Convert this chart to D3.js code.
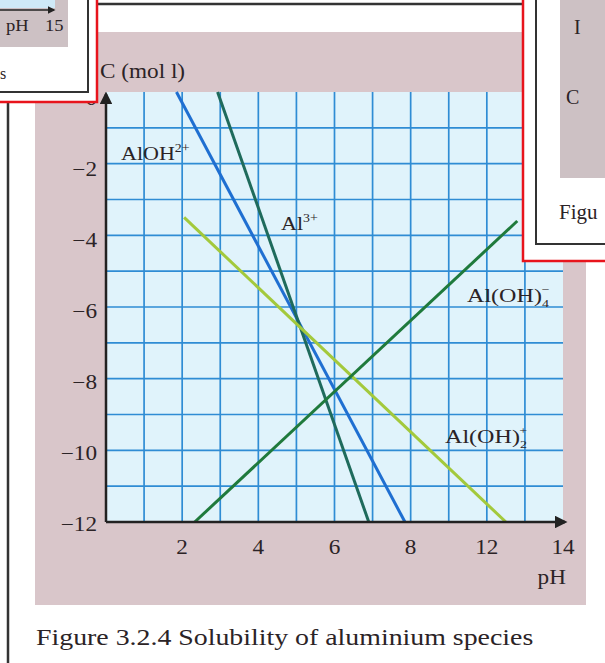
<!DOCTYPE html>
<html>
<head>
  <meta charset="utf-8">
  <title>Solubility of aluminium species</title>
  <style>
    body { margin: 0; background: #fff; }
    svg text { font-family: 'Liberation Serif', 'DejaVu Serif', serif; fill: #2b2326; }
    .tick-label { font-size: 20px; }
  </style>
</head>
<body>
<script src="https://d3js.org/d3.v7.min.js"></script>
<script>
  var width = 605,
      height = 663;

  // grid units along the pH axis, and the labels printed under them
  var xTicks = [2, 4, 6, 8, 10, 12];
  var xTickLabels = ['2', '4', '6', '8', '12', '14'];
  var yTicks = [0, -2, -4, -6, -8, -10, -12];

  var species = ['AlOH2+', 'Al3+', 'Al(OH)2+', 'Al(OH)4-'];
  var linePH = [[1.85, 7.85], [2.93, 6.9], [2.05, 10.5], [2.33, 10.8]];
  var lineLogC = [[0, -12], [0, -12], [-3.5, -12], [-12, -3.6]];
  var lineColors = ['#1f6fd1', '#1f6b5c', '#a3c93c', '#1f7a3c'];

  var stretch = 1.16; // the printed type is wider than Times

  var svg = d3.select('body')
    .append('svg')
    .attr('width', width)
    .attr('height', height);

  function widen(sel) {
    sel.each(function() {
      var w = this.getComputedTextLength();
      d3.select(this)
        .attr('textLength', w * stretch)
        .attr('lengthAdjust', 'spacingAndGlyphs');
    });
    return sel;
  }

  svg.append('rect').attr('width', width).attr('height', height).attr('fill', '#fff');

  // book page around the figure
  svg.append('rect')
    .attr('x', 35).attr('y', 32)
    .attr('width', 551).attr('height', 573)
    .attr('fill', '#d9c6ca');

  var x = d3.scaleLinear().domain([0, 12]).range([106, 563]);
  var y = d3.scaleLinear().domain([0, -12]).range([92, 522]);

  svg.append('rect')
    .attr('x', x(0)).attr('y', y(0))
    .attr('width', x(12) - x(0)).attr('height', y(-12) - y(0))
    .attr('fill', '#e0f3fb');

  var grid = svg.append('g')
    .attr('stroke', '#2f8cd4')
    .attr('stroke-width', 1.7);

  grid.selectAll('.vgrid')
    .data(d3.range(1, 12))
    .enter()
    .append('line')
    .attr('class', 'vgrid')
    .attr('x1', function(d) { return x(d); })
    .attr('x2', function(d) { return x(d); })
    .attr('y1', y(0))
    .attr('y2', y(-12));

  grid.selectAll('.hgrid')
    .data(d3.range(-1, -12, -1))
    .enter()
    .append('line')
    .attr('class', 'hgrid')
    .attr('y1', function(d) { return y(d); })
    .attr('y2', function(d) { return y(d); })
    .attr('x1', x(0))
    .attr('x2', x(12));

  // species lines
  var line = d3.line()
    .x(function(d) { return x(d[0]); })
    .y(function(d) { return y(d[1]); });

  svg.selectAll('.species')
    .data(species)
    .enter()
    .append('path')
    .attr('class', 'species')
    .attr('d', function(d, i) {
      return line([[linePH[i][0], lineLogC[i][0]], [linePH[i][1], lineLogC[i][1]]]);
    })
    .attr('fill', 'none')
    .attr('stroke', function(d, i) { return lineColors[i]; })
    .attr('stroke-width', 3);

  // axes with arrow heads
  var defs = svg.append('defs');
  defs.append('marker')
    .attr('id', 'arrow')
    .attr('viewBox', '0 0 10 10')
    .attr('refX', 8).attr('refY', 5)
    .attr('markerWidth', 5).attr('markerHeight', 5)
    .attr('orient', 'auto')
    .append('path')
    .attr('d', 'M0,0 L10,5 L0,10 z')
    .attr('fill', '#222');

  svg.append('line')
    .attr('x1', x(0)).attr('y1', y(-12))
    .attr('x2', x(12) + 2).attr('y2', y(-12))
    .attr('stroke', '#222').attr('stroke-width', 2.5)
    .attr('marker-end', 'url(#arrow)');

  svg.append('line')
    .attr('x1', x(0)).attr('y1', y(-12))
    .attr('x2', x(0)).attr('y2', y(0) + 2)
    .attr('stroke', '#222').attr('stroke-width', 2.5)
    .attr('marker-end', 'url(#arrow)');

  widen(svg.selectAll('.xlab')
    .data(xTicks)
    .enter()
    .append('text')
    .attr('class', 'tick-label xlab')
    .attr('x', function(d) { return x(d); })
    .attr('y', 554)
    .attr('text-anchor', 'middle')
    .text(function(d, i) { return xTickLabels[i]; }));

  widen(svg.selectAll('.ylab')
    .data(yTicks)
    .enter()
    .append('text')
    .attr('class', 'tick-label ylab')
    .attr('x', 97)
    .attr('y', function(d) { return y(d) + 13 - Math.abs(d) * 0.35; })
    .attr('text-anchor', 'end')
    .text(function(d) { return d === 0 ? '0' : '\u2212' + Math.abs(d); }));

  widen(svg.append('text')
    .attr('x', 100).attr('y', 78)
    .style('font-size', '20px')
    .text('C (mol l)'));

  widen(svg.append('text')
    .attr('x', 566).attr('y', 584)
    .attr('text-anchor', 'end')
    .style('font-size', '20px')
    .text('pH'));

  // species labels
  function label(tx, ty, base, sup, sub) {
    var t = svg.append('text').attr('x', tx).attr('y', ty).style('font-size', '19px');
    t.append('tspan').text(base);
    if (sub) {
      t.append('tspan').attr('dy', 5).style('font-size', '11px').text(sub);
      t.append('tspan').attr('dx', -6).attr('dy', -14).style('font-size', '11px').text(sup);
    } else {
      t.append('tspan').attr('dy', -8).style('font-size', '12px').text(sup);
    }
    widen(t);
  }
  label(121, 160, 'AlOH', '2+');
  label(281, 230, 'Al', '3+');
  label(467, 302, 'Al(OH)', '\u2212', '4');
  label(445, 443, 'Al(OH)', '+', '2');

  widen(svg.append('text')
    .attr('x', 36).attr('y', 645)
    .style('font-size', '24px')
    .text('Figure 3.2.4 Solubility of aluminium species'));

  // neighbouring figures on the page
  svg.append('line')
    .attr('x1', 97).attr('x2', 523).attr('y1', 4).attr('y2', 4)
    .attr('stroke', '#333').attr('stroke-width', 2.5);

  svg.append('line')
    .attr('x1', 8).attr('x2', 8).attr('y1', 100).attr('y2', height)
    .attr('stroke', '#333').attr('stroke-width', 2.5);

  var left = svg.append('g');
  left.append('rect').attr('x', 0).attr('y', 0).attr('width', 97).attr('height', 102).attr('fill', '#fff');
  left.append('rect').attr('x', 0).attr('y', 0).attr('width', 68).attr('height', 47).attr('fill', '#cdc1c4');
  left.append('rect').attr('x', 0).attr('y', 0).attr('width', 55).attr('height', 8).attr('fill', '#cfe9f7');
  left.append('line').attr('x1', 0).attr('x2', 54).attr('y1', 10).attr('y2', 10)
    .attr('stroke', '#222').attr('stroke-width', 1.5).attr('marker-end', 'url(#arrow)');
  widen(left.append('text').attr('x', 6).attr('y', 31).style('font-size', '16px').text('pH'));
  widen(left.append('text').attr('x', 45).attr('y', 31).style('font-size', '16px').text('15'));
  left.append('text').attr('x', 0).attr('y', 79).style('font-size', '16px').text('s');
  left.append('path').attr('d', 'M88,0 V92 H0').attr('fill', 'none').attr('stroke', '#333').attr('stroke-width', 2);
  left.append('path').attr('d', 'M97,0 V102 H0').attr('fill', 'none').attr('stroke', '#e8141c').attr('stroke-width', 2.5);

  var right = svg.append('g');
  right.append('rect').attr('x', 523).attr('y', 0).attr('width', 82).attr('height', 261).attr('fill', '#fff');
  right.append('rect').attr('x', 560).attr('y', 0).attr('width', 45).attr('height', 178).attr('fill', '#cdc1c4');
  right.append('text').attr('x', 574).attr('y', 34).style('font-size', '20px').text('I');
  right.append('text').attr('x', 566).attr('y', 104).style('font-size', '20px').text('C');
  right.append('text').attr('x', 559).attr('y', 219).style('font-size', '21px').text('Figu');
  right.append('path').attr('d', 'M536,0 V244 H605').attr('fill', 'none').attr('stroke', '#333').attr('stroke-width', 2);
  right.append('path').attr('d', 'M523,0 V261 H605').attr('fill', 'none').attr('stroke', '#e8141c').attr('stroke-width', 2.5);
</script>
</body>
</html>
